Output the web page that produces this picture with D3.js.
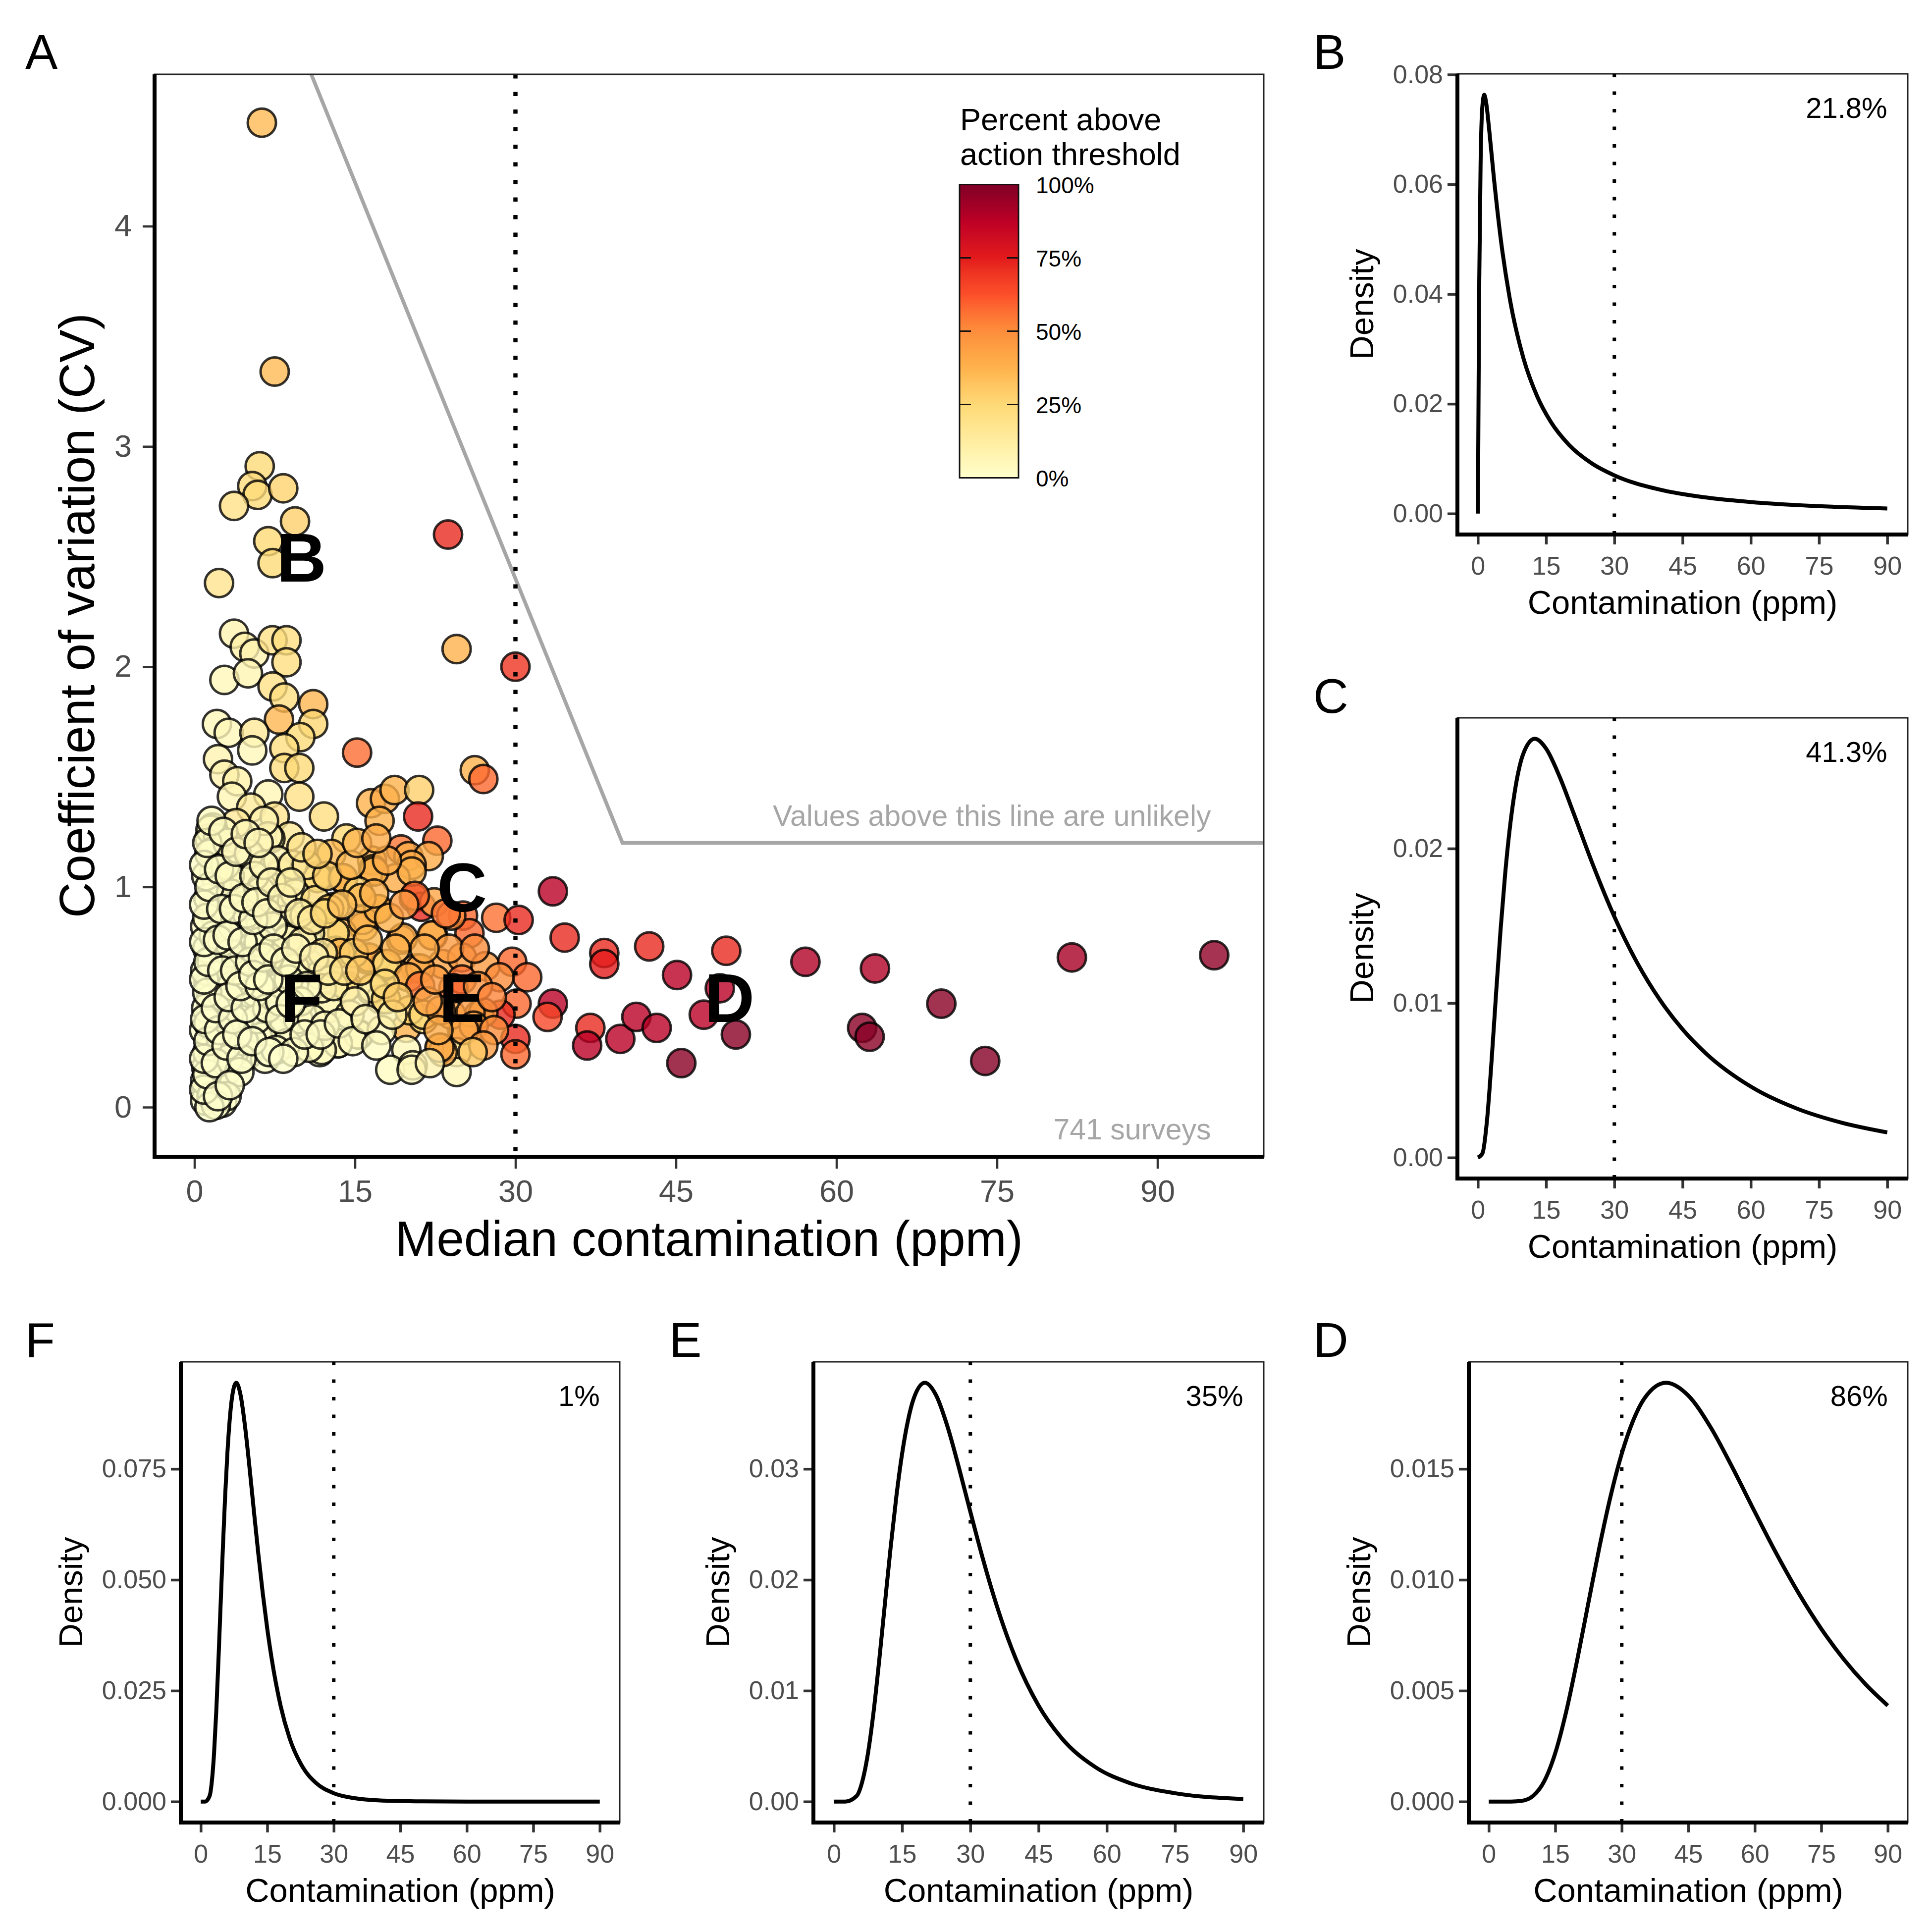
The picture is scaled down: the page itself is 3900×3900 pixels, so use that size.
<!DOCTYPE html>
<html>
<head>
<meta charset="utf-8">
<script src="https://cdn.jsdelivr.net/npm/d3@7"></script>
<style>
  body { margin: 0; background: #fff; }
  svg { display: block; }
  text { font-family: 'Liberation Sans', Arial, Helvetica, sans-serif; }
</style>
</head>
<body>
<div id="chart"></div>
<script>
// ---- data ----
// surveys: [median contamination (ppm), coefficient of variation, percent above threshold]
const surveys = [
  [6.3,4.47,35],[7.5,3.34,35],[6.1,2.91,24],[5.4,2.82,23],[5.9,2.78,24],[8.3,2.81,27],[3.7,2.73,20],
  [9.4,2.66,28],[6.9,2.57,25],[7.3,2.47,24],[2.3,2.38,18],[23.7,2.60,72],[24.5,2.08,38],[30.0,2.0,70],
  [3.7,2.15,8],[4.7,2.09,10],[5.6,2.06,8],[7.3,2.12,20],[8.6,2.12,22],[8.6,2.02,22],[2.8,1.94,5],[5.0,1.97,7],
  [7.3,1.91,20],[8.4,1.86,22],[11.1,1.83,36],[7.9,1.76,36],[11.1,1.74,26],[2.1,1.74,5],[3.2,1.70,5],
  [5.6,1.70,15],[9.9,1.68,24],[5.4,1.62,5],[8.4,1.63,22],[2.2,1.58,8],[2.8,1.51,8],[4.0,1.48,10],
  [8.4,1.54,22],[9.8,1.54,24],[15.2,1.61,57],[3.5,1.41,6],[6.9,1.42,6],[9.8,1.41,20],[5.3,1.36,14],
  [12.1,1.32,22],[16.5,1.38,38],[17.8,1.40,40],[18.7,1.44,38],[17.3,1.30,38],[21.0,1.44,28],[20.9,1.32,72],
  [3.9,1.29,15],[7.5,1.32,18],[1.7,1.27,5],[8.9,1.23,15],[14.2,1.22,25],[19.3,1.17,55],[1.4,1.22,3],
  [2.5,1.18,4],[7.1,1.22,10],[12.8,1.15,35],[16.6,1.12,38],[20.0,1.14,40],[1.9,1.12,3],
  [22.7,1.21,58],[21.9,1.14,40],[20.3,1.10,40],[26.2,1.53,38],[27.0,1.49,58],[11.5,1.05,25],[13.8,1.04,35],
  [16.7,1.08,38],[18.8,1.04,40],[8.1,1.07,8],[1.5,1.26,4],[2.2,1.22,4],
  [20.5,0.95,70],[21.2,0.91,72],[22.4,0.93,42],[25.1,0.87,58],[25.7,0.79,58],[28.2,0.86,56],[30.3,0.85,72],
  [33.5,0.98,88],[34.6,0.77,72],[19.3,0.76,38],[22.3,0.78,40],[17.0,0.90,38],[15.8,0.82,38],[13.8,0.79,35],
  [13.2,0.71,38],[16.2,0.67,38],[17.9,0.65,35],[23.2,0.65,42],[25.0,0.68,45],[27.2,0.64,45],[29.7,0.66,58],
  [31.1,0.59,58],[28.5,0.59,50],[30.1,0.47,58],[33.5,0.47,88],[33.0,0.41,65],[28.6,0.42,72],[30.0,0.31,72],
  [30.0,0.24,58],[26.6,0.42,42],[25.0,0.35,42],[24.0,0.42,42],[19.8,0.36,38],[21.4,0.40,22],[23.0,0.27,42],
  [24.5,0.25,20],[19.8,0.26,5],[18.3,0.17,3],[24.5,0.16,5],[20.4,0.19,5],[20.7,0.63,40],[19.1,0.60,40],
  [17.7,0.64,25],[16.5,0.53,12],[17.4,0.49,12],[15.4,0.33,3],[13.4,0.29,3],[11.7,0.25,2],[12.6,0.46,8],
  [14.3,0.55,15],
  [38.3,0.70,72],[38.3,0.65,75],[42.5,0.73,72],[45.1,0.60,88],[49.1,0.54,88],[47.6,0.42,88],[37.0,0.36,72],
  [36.7,0.28,88],[39.8,0.31,88],[41.3,0.41,88],[43.2,0.36,88],[45.5,0.20,98],[49.7,0.71,72],[50.6,0.33,98],
  [57.1,0.66,90],[63.6,0.63,90],[62.4,0.36,98],[63.1,0.32,98],[69.8,0.47,98],[73.9,0.21,99],[82.0,0.68,92],
  [95.3,0.69,97],
  [25.0,0.58,55],[24.2,0.54,58],[27.0,0.43,45],[25.8,0.43,45],[26.1,0.37,42],[25.2,0.35,42],[23.2,0.25,40],
  [1.8,1.06,3],[4.5,1.03,4],[8.1,1.06,8],[11.5,1.04,22],[13.9,1.04,38],[16.8,1.07,38],[20.3,1.07,38],
  [20.6,0.96,58],[2.1,0.94,2],[3.9,0.93,3],[2.1,0.85,2],[7.0,0.93,5],[9.1,0.93,8],[8.4,0.85,6],
  [10.4,0.82,12],[13.1,0.91,25],[15.7,0.85,38],[17.2,0.90,38],[15.3,0.98,28],[13.1,0.79,25],[8.8,0.77,5],
  [19.5,0.77,40],[22.2,0.78,40],[13.6,0.70,38],[16.3,0.68,40],[18.0,0.65,25],[21.1,0.63,42],[20.0,0.59,40],
  [1.3,0.56,1],[4.2,0.66,2],[2.1,0.67,1],[6.7,0.67,3],[10.7,0.65,4],[11.7,0.60,5],[14.1,0.54,22],
  [16.6,0.54,10],[17.9,0.49,25],[21.1,0.55,55],[20.1,0.44,28],[21.4,0.42,25],[23.0,0.44,45],[12.6,0.45,5],
  [11.9,0.54,5],[5.7,0.48,1],[4.2,0.40,1],[1.5,0.42,0],[1.5,0.56,0],[7.1,0.35,1],[8.4,0.36,1],[9.7,0.40,2],
  [5.7,0.52,1],[7.6,0.54,2],[15.3,0.33,5],[17.5,0.35,5],[20.3,0.17,4],[22.9,0.27,40],[13.4,0.29,4],
  [11.9,0.26,3],[10.7,0.27,3],[8.6,0.29,1],[6.3,0.32,1],[5.0,0.24,0],[3.7,0.25,0],[2.4,0.14,0],[1.1,0.18,0],
  [1.1,0.07,0],[2.6,0.02,0],[1.0,0.03,0],[1.5,0.29,0],[2.6,0.08,0],[1.8,0.22,0],[2.9,0.16,0],[1.5,0.49,0],
  [2.9,0.38,0],
  [1.7,1.16,2],[6.9,1.23,6],[4.2,1.04,3],[6.3,1.00,4],[2.1,1.01,2],[1.6,0.89,1],[3.0,0.87,2],[2.1,0.83,1],
  [9.4,0.97,8],[10.3,0.87,10],[11.3,0.94,22],[12.6,0.90,30],[10.8,0.79,10],[8.7,0.76,5],[5.4,0.79,2],
  [7.0,0.68,3],[9.4,0.63,3],
  [1.0,0.12,0],[1.2,0.25,0],[0.9,0.35,0],[1.1,0.45,0],[1.0,0.62,0],[1.2,0.72,1],[1.0,0.82,1],[1.3,0.95,1],
  [1.1,1.05,1],[1.4,1.15,2],[1.6,0.05,0],[1.3,0.38,0],[1.6,0.66,1],[1.8,0.78,1],[2.5,0.30,0],[2.7,0.50,0],
  [2.4,0.60,1],[2.6,0.75,1],[2.9,1.10,3],[3.2,0.22,0],[3.5,0.55,1],[3.3,0.70,1],[3.6,0.82,2],[3.4,0.97,2],
  [3.1,1.20,4],[4.6,0.30,0],[4.8,0.60,1],[4.9,0.88,2],[5.1,1.15,4],[5.8,0.40,0],[6.0,0.75,2],[6.2,0.98,4],
  [6.5,1.30,8],[6.8,0.45,1],[7.3,0.82,4],[7.8,1.12,8],[8.0,0.48,1],[8.8,0.58,2],[9.2,1.10,12],[9.9,0.48,2],
  [10.1,0.75,8],[10.5,1.10,18],[11.0,0.40,3],[12.0,0.70,15],[12.4,1.05,28],[13.0,0.55,10],[14.5,0.42,8],
  [14.9,0.70,28],[15.6,0.95,35],[12.2,0.37,3],[6.6,0.22,0],[7.6,0.26,0],[9.3,0.25,1],[4.2,0.16,0],
  [3.0,0.05,0],[2.0,0.01,0],[1.4,0.0,0],
  [0.9,0.08,0],[1.2,0.15,0],[0.9,0.22,0],[1.3,0.30,0],[1.0,0.40,0],[1.2,0.52,0],[0.9,0.58,0],[1.3,0.66,0],
  [0.9,0.75,0],[1.2,0.86,1],[0.9,0.92,1],[1.4,1.00,1],[0.9,1.10,1],[1.2,1.20,2],[1.6,1.30,3],
  [2.2,0.05,0],[2.0,0.20,0],[2.3,0.35,0],[2.0,0.45,0],[2.6,0.62,0],[2.2,0.76,1],[2.5,0.90,1],[2.3,1.08,2],
  [2.7,1.25,3],[3.3,0.10,0],[3.0,0.28,0],[3.6,0.40,0],[3.2,0.50,0],[3.8,0.62,1],[3.1,0.78,1],[3.7,0.90,2],
  [3.3,1.05,3],[3.9,1.16,4],
  [4.4,0.22,0],[4.0,0.33,0],[4.8,0.45,0],[4.3,0.55,1],[5.2,0.66,1],[4.5,0.75,1],[5.5,0.85,2],[4.6,0.95,3],
  [5.6,1.05,4],[4.8,1.24,6],[5.4,0.30,0],[6.1,0.55,1],[5.5,0.60,1],[6.4,0.68,2],[5.8,0.93,3],[6.5,1.10,6],
  [6.0,1.20,6],[7.0,0.25,0],[6.9,0.58,1],[7.4,0.72,3],[6.8,0.88,4],[7.2,1.02,6],
  [8.3,0.22,0],[8.0,0.40,1],[9.0,0.47,1],[8.5,0.66,3],[9.5,0.72,5],[8.2,0.95,6],[9.0,1.02,10],[9.8,0.88,10],
  [10.3,0.33,1],[10.5,0.55,3],[11.2,0.68,8],[11.0,0.85,15],[10.0,1.18,18],[11.8,0.33,2],[12.5,0.62,12],
  [11.5,1.15,28],[12.2,0.88,25],
  [13.5,0.38,3],[14.0,0.62,20],[13.8,0.92,33],[14.8,0.30,3],[15.0,0.48,8],[15.5,0.62,30],[14.6,1.10,35],
  [16.0,0.40,6],[16.2,0.76,35],[15.2,1.20,36],[17.0,0.28,3],[17.8,0.56,25],[16.8,0.97,38],[18.5,0.42,10],
  [18.8,0.72,38],[18.2,0.86,38],[19.0,0.50,30],[19.6,0.92,45],[18.0,1.12,40],[17.0,1.22,40],
  [21.8,0.48,42],[22.5,0.58,45],[23.8,0.72,45],[21.5,0.72,40],[22.8,0.35,40],[24.0,0.87,50],[26.5,0.55,48],
  [27.8,0.50,52],[26.2,0.72,50],[28.0,0.35,50],[27.0,0.28,45],[26.0,0.25,30],[22.0,0.20,8],[23.5,0.88,55]
];

// line above which values are unlikely: [median, CV]
const unlikelyLine = [[0, 6.0], [40, 1.2], [100, 1.2]];
const actionThreshold = 30;

// letters marking the example distributions on panel A
const markLetters = ['B', 'C', 'D', 'E', 'F'];
const markMedian  = [10, 25, 50, 25, 10];
const markCV      = [2.5, 1.0, 0.5, 0.5, 0.5];

const xTicks   = [0, 15, 30, 45, 60, 75, 90];
const cvTicks  = [0, 1, 2, 3, 4];
const pctTicks = [0, 25, 50, 75, 100];
const ylOrRd   = ['#ffffcc','#ffeda0','#fed976','#feb24c','#fd8d3c','#fc4e2a','#e31a1c','#bd0026','#800026'];
const ylOrRdAt = [0, 12.5, 25, 37.5, 50, 62.5, 75, 87.5, 100];

// density curves: [contamination (ppm), density]
const densB = [[0,0],[0.15,0.02204],[0.3,0.04244],[0.6,0.06408],[1.0,0.07436],[1.4,0.07632],[1.8,0.07496],
  [2.5,0.06980],[3.5,0.06132],[5,0.05021],[7,0.03921],[10,0.02834],[13,0.02143],[16,0.01675],[20,0.01255],
  [25,0.009173],[30,0.006967],[40,0.004363],[50,0.002948],[60,0.002101],[75,0.001356],[90,0.000931]];
const densC = [[0,0],[1,0.000272],[2,0.002404],[3,0.006237],[4,0.010624],[5,0.014794],[6,0.018379],
  [7,0.021270],[8,0.023478],[10,0.026150],[12.5,0.027106],[15,0.026464],[18,0.024627],[21,0.022323],
  [25,0.019167],[30,0.015594],[35,0.012617],[40,0.010215],[45,0.008299],[50,0.006777],[60,0.004594],
  [70,0.003186],[80,0.002257],[90,0.001630]];
const densD = [[0,0],[5,0.0000012],[7.5,0.0000355],[10,0.000255],[12.5,0.000911],[15,0.002188],[17.5,0.004084],
  [20,0.006436],[22.5,0.008993],[25,0.011512],[27.5,0.013787],[30,0.015688],[32.5,0.017145],[35,0.018145],
  [40,0.018884],[45,0.018306],[50,0.016891],[55,0.015046],[60,0.013065],[65,0.011136],[70,0.009362],
  [75,0.007791],[80,0.006435],[85,0.005287],[90,0.004327]];
const densE = [[0,0],[2.5,0.0000024],[5,0.000509],[6.25,0.001823],[7.5,0.004376],[8.75,0.008169],[10,0.012872],
  [11.25,0.017987],[12.5,0.023024],[13.75,0.027575],[15,0.031376],[16.25,0.034291],[17.5,0.036290],
  [20,0.037769],[22.5,0.036613],[25,0.033781],[27.5,0.030092],[30,0.026130],[32.5,0.022272],[35,0.018723],
  [37.5,0.015582],[40,0.012870],[45,0.008653],[50,0.005756],[57.5,0.003104],[65,0.001680],[75,0.000754],
  [90,0.000237]];
const densF = [[0,0],[1,0.000006],[2,0.001273],[2.5,0.004557],[3,0.010939],[3.5,0.020422],[4,0.032179],
  [4.5,0.044967],[5,0.057561],[5.5,0.068937],[6,0.078440],[6.5,0.085727],[7,0.090724],[8,0.094422],
  [9,0.091532],[10,0.084454],[11,0.075229],[12,0.065326],[13,0.055679],[14,0.046808],[15,0.038954],
  [16,0.032176],[18,0.021633],[20,0.014390],[23,0.007759],[26,0.004199],[30,0.001884],[35,0.000717],
  [40,0.000285],[50,0.000051],[60,0.000009],[90,0]];

const densTicksB = [0, 0.02, 0.04, 0.06, 0.08];
const densTicksC = [0, 0.01, 0.02];
const densTicksD = [0, 0.005, 0.010, 0.015];
const densTicksE = [0, 0.01, 0.02, 0.03];
const densTicksF = [0, 0.025, 0.050, 0.075];
const pctAbove = ['21.8%', '41.3%', '86%', '35%', '1%'];

// ---- drawing ----
const W = 3900, H = 3900;
const INK = '#4d4d4d';
const svg = d3.select('#chart').append('svg')
  .attr('width', W).attr('height', H)
  .attr('viewBox', [0, 0, W, H]);
svg.append('rect').attr('width', W).attr('height', H).attr('fill', '#fff');

const fillScale = d3.scaleLinear().domain(ylOrRdAt).range(ylOrRd)
  .interpolate(d3.interpolateLab).clamp(true);

function styleAxis(g, size, width){
  g.select('.domain').remove();
  g.selectAll('.tick line').attr('stroke', '#333').attr('stroke-width', width);
  g.selectAll('.tick text').attr('fill', INK).attr('font-size', size)
    .attr('font-family', "'Liberation Sans', Arial, sans-serif");
}

// ---------- panel A ----------
const A = {left: 312, right: 2551, top: 150, bottom: 2335};
const x = d3.scaleLinear().domain([-3.727, 99.93]).range([A.left, A.right]);
const y = d3.scaleLinear().domain([-0.2249, 4.6897]).range([A.bottom, A.top]);

svg.append('clipPath').attr('id', 'clipA').append('rect')
  .attr('x', A.left).attr('y', A.top)
  .attr('width', A.right - A.left).attr('height', A.bottom - A.top);

const gA = svg.append('g');
const plotA = gA.append('g').attr('clip-path', 'url(#clipA)');

plotA.selectAll('circle.survey').data(surveys).join('circle')
  .attr('class', 'survey')
  .attr('cx', d => x(d[0])).attr('cy', d => y(d[1])).attr('r', 28.5)
  .attr('fill', d => fillScale(d[2])).attr('fill-opacity', 0.8)
  .attr('stroke', '#000').attr('stroke-opacity', 0.8).attr('stroke-width', 5);

plotA.append('path').datum(unlikelyLine)
  .attr('d', d3.line().x(d => x(d[0])).y(d => y(d[1])))
  .attr('fill', 'none').attr('stroke', '#a6a6a6').attr('stroke-width', 7.5);

plotA.append('line')
  .attr('x1', x(actionThreshold)).attr('x2', x(actionThreshold))
  .attr('y1', A.top).attr('y2', A.bottom)
  .attr('stroke', '#000').attr('stroke-width', 8.5).attr('stroke-dasharray', '8.5 27');

plotA.selectAll('text.mark').data(markLetters).join('text')
  .attr('class', 'mark')
  .attr('x', (d, i) => x(markMedian[i])).attr('y', (d, i) => y(markCV[i]) + 50)
  .attr('text-anchor', 'middle').attr('font-size', 140).attr('font-weight', 'bold')
  .text(d => d);

gA.append('text').attr('x', x(95)).attr('y', 1667)
  .attr('text-anchor', 'end').attr('font-size', 59).attr('fill', '#a6a6a6')
  .text('Values above this line are unlikely');
gA.append('text').attr('x', x(95)).attr('y', 2300)
  .attr('text-anchor', 'end').attr('font-size', 59).attr('fill', '#a6a6a6')
  .text('741 surveys');

// frame and axes
gA.append('rect').attr('x', A.left).attr('y', A.top)
  .attr('width', A.right - A.left).attr('height', A.bottom - A.top)
  .attr('fill', 'none').attr('stroke', '#222').attr('stroke-width', 3);

gA.append('g').attr('transform', `translate(0,${A.bottom})`)
  .call(d3.axisBottom(x).tickValues(xTicks).tickSize(24).tickPadding(22).tickFormat(d3.format('d')))
  .call(g => styleAxis(g, 63, 4.5));
gA.append('g').attr('transform', `translate(${A.left},0)`)
  .call(d3.axisLeft(y).tickValues(cvTicks).tickSize(24).tickPadding(22).tickFormat(d3.format('d')))
  .call(g => styleAxis(g, 63, 4.5));

gA.append('line').attr('x1', A.left).attr('x2', A.left).attr('y1', A.top).attr('y2', A.bottom + 4)
  .attr('stroke', '#000').attr('stroke-width', 8);
gA.append('line').attr('x1', A.left - 4).attr('x2', A.right).attr('y1', A.bottom).attr('y2', A.bottom)
  .attr('stroke', '#000').attr('stroke-width', 8);

gA.append('text').attr('x', (A.left + A.right) / 2).attr('y', 2535)
  .attr('text-anchor', 'middle').attr('font-size', 100)
  .text('Median contamination (ppm)');
gA.append('text').attr('transform', `translate(190,${(A.top + A.bottom) / 2}) rotate(-90)`)
  .attr('text-anchor', 'middle').attr('font-size', 100)
  .text('Coefficient of variation (CV)');
svg.append('text').attr('x', 51).attr('y', 139).attr('font-size', 98).text('A');

// colour bar legend
const leg = {x: 1937, y: 372.5, w: 119, h: 592};
const grad = svg.append('defs').append('linearGradient').attr('id', 'pctGrad')
  .attr('x1', 0).attr('y1', 1).attr('x2', 0).attr('y2', 0);
grad.selectAll('stop').data(d3.range(0, 101, 2.5)).join('stop')
  .attr('offset', d => d / 100).attr('stop-color', d => fillScale(d));

const legY = d3.scaleLinear().domain([0, 100]).range([leg.y + leg.h, leg.y]);
const gLeg = svg.append('g');
gLeg.append('text').attr('x', 1938).attr('y', 263).attr('font-size', 63).text('Percent above');
gLeg.append('text').attr('x', 1938).attr('y', 333).attr('font-size', 63).text('action threshold');
gLeg.append('rect').attr('x', leg.x).attr('y', leg.y).attr('width', leg.w).attr('height', leg.h)
  .attr('fill', 'url(#pctGrad)');
gLeg.selectAll('line.tl').data(pctTicks.slice(1, 4)).join('line').attr('class', 'tl')
  .attr('x1', leg.x).attr('x2', leg.x + 23).attr('y1', d => legY(d)).attr('y2', d => legY(d))
  .attr('stroke', '#111').attr('stroke-width', 3);
gLeg.selectAll('line.tr').data(pctTicks.slice(1, 4)).join('line').attr('class', 'tr')
  .attr('x1', leg.x + leg.w - 23).attr('x2', leg.x + leg.w).attr('y1', d => legY(d)).attr('y2', d => legY(d))
  .attr('stroke', '#111').attr('stroke-width', 3);
gLeg.append('rect').attr('x', leg.x).attr('y', leg.y).attr('width', leg.w).attr('height', leg.h)
  .attr('fill', 'none').attr('stroke', '#111').attr('stroke-width', 3);
gLeg.selectAll('text.pl').data(pctTicks).join('text').attr('class', 'pl')
  .attr('x', 2091).attr('y', d => legY(d) + 17).attr('font-size', 46)
  .text(d => d + '%');

// ---------- density panels ----------
const subPanels = [
  {id: 'B', cx: 2600, cy: 0,    data: densB, ticks: densTicksB, fmt: '.2f', pct: pctAbove[0]},
  {id: 'C', cx: 2600, cy: 1300, data: densC, ticks: densTicksC, fmt: '.2f', pct: pctAbove[1]},
  {id: 'D', cx: 2600, cy: 2600, data: densD, ticks: densTicksD, fmt: '.3f', pct: pctAbove[2]},
  {id: 'E', cx: 1300, cy: 2600, data: densE, ticks: densTicksE, fmt: '.2f', pct: pctAbove[3]},
  {id: 'F', cx: 0,    cy: 2600, data: densF, ticks: densTicksF, fmt: '.3f', pct: pctAbove[4]}
];

subPanels.forEach(function(p){
  const left = p.cx + (p.fmt === '.3f' ? 365 : 342);
  const right = p.cx + 1251, top = p.cy + 149, bottom = p.cy + 1079;
  const ymax = d3.max(p.data, d => d[1]);
  const sx = d3.scaleLinear().domain([-4.5, 94.5]).range([left, right]);
  const sy = d3.scaleLinear().domain([-0.05 * ymax, 1.05 * ymax]).range([bottom, top]);
  const g = svg.append('g');

  g.append('rect').attr('x', left).attr('y', top).attr('width', right - left).attr('height', bottom - top)
    .attr('fill', 'none').attr('stroke', '#222').attr('stroke-width', 3);

  g.append('line').attr('x1', sx(actionThreshold)).attr('x2', sx(actionThreshold))
    .attr('y1', top).attr('y2', bottom)
    .attr('stroke', '#000').attr('stroke-width', 7).attr('stroke-dasharray', '7 28.5');

  g.append('path').datum(p.data)
    .attr('d', d3.line().x(d => sx(d[0])).y(d => sy(d[1])).curve(d3.curveMonotoneX))
    .attr('fill', 'none').attr('stroke', '#000').attr('stroke-width', 8).attr('stroke-linejoin', 'round');

  g.append('text').attr('x', sx(90)).attr('y', sy(ymax) + 47)
    .attr('text-anchor', 'end').attr('font-size', 58).text(p.pct);

  g.append('g').attr('transform', `translate(0,${bottom})`)
    .call(d3.axisBottom(sx).tickValues(xTicks).tickSize(20).tickPadding(24).tickFormat(d3.format('d')))
    .call(a => styleAxis(a, 52, 5.5));
  const yAxis = g.append('g').attr('transform', `translate(${left},0)`)
    .call(d3.axisLeft(sy).tickValues(p.ticks).tickSize(20).tickPadding(9).tickFormat(d3.format(p.fmt)))
    .call(a => styleAxis(a, 52, 5.5));

  g.append('line').attr('x1', left).attr('x2', left).attr('y1', top).attr('y2', bottom + 4)
    .attr('stroke', '#000').attr('stroke-width', 8);
  g.append('line').attr('x1', left - 4).attr('x2', right).attr('y1', bottom).attr('y2', bottom)
    .attr('stroke', '#000').attr('stroke-width', 8);

  // y title sits just left of the widest tick label
  const labelLeft = left + d3.min(yAxis.selectAll('.tick text').nodes(), n => n.getBBox().x);
  g.append('text').attr('x', (left + right) / 2).attr('y', bottom + 160)
    .attr('text-anchor', 'middle').attr('font-size', 67).text('Contamination (ppm)');
  g.append('text').attr('transform', `translate(${labelLeft - 40},${(top + bottom) / 2}) rotate(-90)`)
    .attr('text-anchor', 'middle').attr('font-size', 67).text('Density');

  svg.append('text').attr('x', p.cx + 51).attr('y', p.cy + 139).attr('font-size', 98).text(p.id);
});
</script>
</body>
</html>
